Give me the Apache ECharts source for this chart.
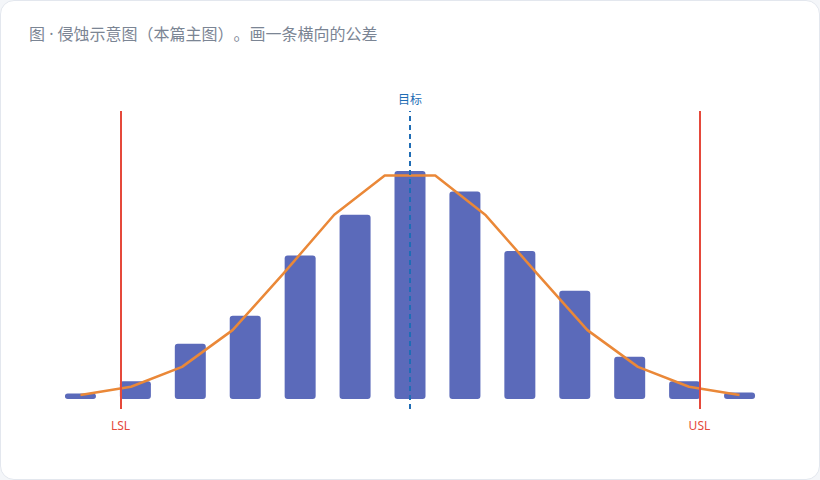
<!DOCTYPE html>
<html>
<head>
<meta charset="utf-8">
<script src="https://cdn.jsdelivr.net/npm/echarts@6/dist/echarts.min.js"></script>
<style>
  html, body { margin: 0; padding: 0; background: #f4f6f9; }
  #chart { width: 820px; height: 480px; box-sizing: border-box; border: 1px solid #e3e7ee; border-radius: 14px; background: #ffffff; overflow: hidden; }
  #chart svg text { text-spacing-trim: space-all; font-kerning: none; font-feature-settings: "kern" 0, "chws" 0, "halt" 0, "palt" 0; }
</style>
</head>
<body>
<div id="chart"></div>
<script>
// Histogram bins (centers) and counts
const binCenters = [1, 2, 3, 4, 5, 6, 7, 8, 9, 10, 11, 12, 13];
const binCounts = [2.8, 9, 27.8, 42, 72.3, 92.8, 114.8, 104.5, 74.5, 54.5, 21.3, 9, 3.3];
// Fitted curve
const curveX = [1.00, 1.92, 2.85, 3.77, 4.69, 5.62, 6.54, 7.46, 8.38, 9.31, 10.23, 11.15, 12.08, 13.00];
const curveY = [2, 6.2, 16.2, 34.7, 63, 92.8, 112.5, 112.5, 92.5, 63.3, 34.7, 16.2, 6.2, 2];
// Spec limits
const LSL = 1.73;
const USL = 12.27;
const TARGET = 7;
const Y_MIN = -5;
const Y_MAX = 145;

const chart = echarts.init(document.getElementById('chart'), null, { renderer: 'svg' });
const font = '"Noto Sans", "Noto Sans CJK SC", sans-serif';

chart.setOption({
  animation: false,
  backgroundColor: 'transparent',
  title: {
    text: '图 · 侵蚀示意图（本篇主图）。画一条横向的公差',
    left: 28, top: 25, padding: 0,
    textStyle: { fontFamily: font, fontSize: 16, fontWeight: 'normal', color: '#7b8594' }
  },
  grid: { left: 52, right: 52, top: 110, bottom: 70 },
  xAxis: { type: 'value', min: 0.5, max: 13.5, show: false },
  yAxis: { type: 'value', min: Y_MIN, max: Y_MAX, show: false },
  series: [
    {
      type: 'bar',
      data: binCenters.map((x, i) => [x, binCounts[i]]),
      barWidth: 31,
      itemStyle: { color: '#5b6aba', borderRadius: 3 },
      z: 2
    },
    {
      type: 'line',
      data: curveX.map((x, i) => [x, curveY[i]]),
      showSymbol: false,
      symbol: 'none',
      lineStyle: { color: '#ea8838', width: 2.5 },
      z: 3
    },
    {
      type: 'line',
      data: [],
      z: 4,
      markLine: {
        silent: true,
        symbol: ['none', 'none'],
        animation: false,
        data: [
          [
            { coord: [LSL, Y_MIN], lineStyle: { color: '#e5493b', width: 2, type: 'solid' },
              label: { show: true, position: 'start', formatter: 'LSL', color: '#e5493b', fontFamily: font, fontSize: 12, distance: 10 } },
            { coord: [LSL, Y_MAX] }
          ],
          [
            { coord: [USL, Y_MIN], lineStyle: { color: '#e5493b', width: 2, type: 'solid' },
              label: { show: true, position: 'start', formatter: 'USL', color: '#e5493b', fontFamily: font, fontSize: 12, distance: 10 } },
            { coord: [USL, Y_MAX] }
          ],
          [
            { coord: [TARGET, Y_MIN], lineStyle: { color: '#1f6db5', width: 2, type: [5, 4] },
              label: { show: true, position: 'end', formatter: '目标', color: '#1f6db5', fontFamily: font, fontSize: 12, distance: 6 } },
            { coord: [TARGET, Y_MAX] }
          ]
        ]
      }
    }
  ]
});
</script>
</body>
</html>
